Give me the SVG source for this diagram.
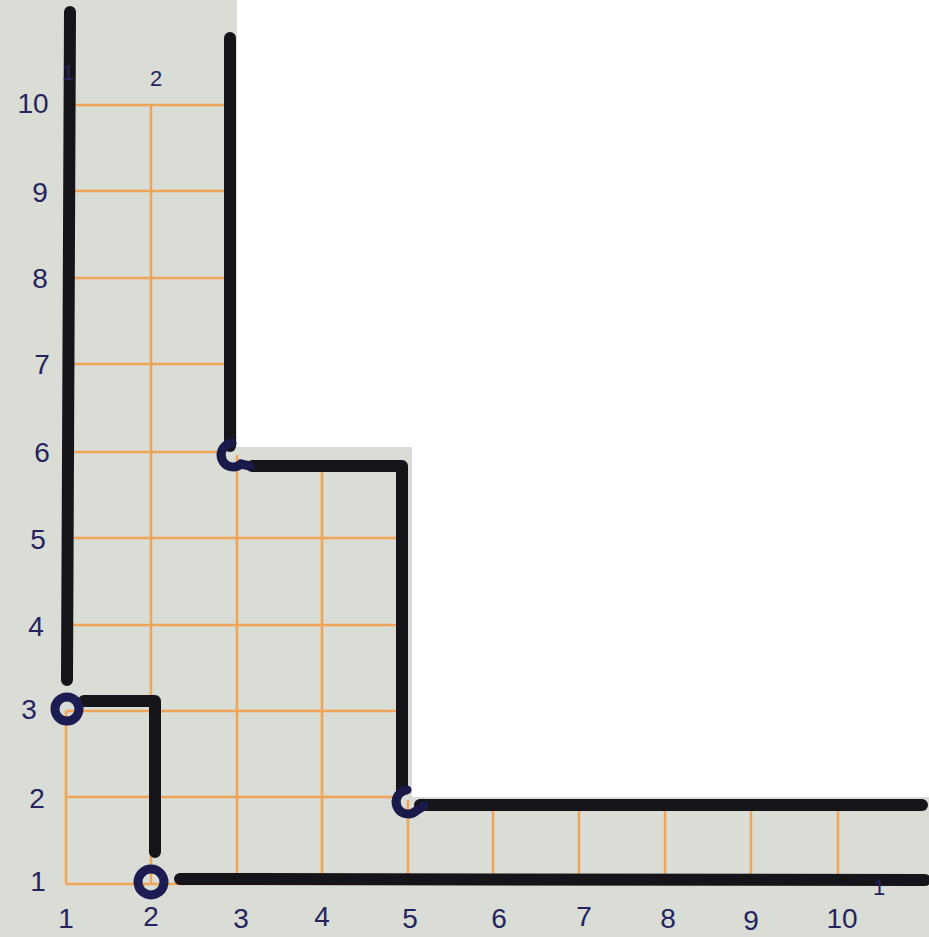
<svg xmlns="http://www.w3.org/2000/svg" width="929" height="937" viewBox="0 0 929 937">
<style>
.paper{fill:#d9ddd6}
.grid{stroke:#f0a456;stroke-width:2.5;fill:none}
.ink{stroke:#151519;stroke-width:12;fill:none;stroke-linecap:round;stroke-linejoin:round}
.ring{stroke:#1c1c52;stroke-width:9;fill:none}
.arc{stroke:#1a1a4a;stroke-width:9;fill:none;stroke-linecap:round}
.lbl{font-family:"Liberation Sans","DejaVu Sans",sans-serif;font-size:28px;fill:#25245e;text-anchor:middle}
.sm{font-size:22px}
</style>
<rect width="929" height="937" fill="#ffffff"/>
<g id="paper">
<path class="paper" d="M0 0 H237 V447 H412 V797 H929 V937 H0 Z"/>
</g>
<g id="grid">
<line class="grid" x1="66" y1="105" x2="230" y2="105"/>
<line class="grid" x1="66" y1="191" x2="230" y2="191"/>
<line class="grid" x1="66" y1="278" x2="230" y2="278"/>
<line class="grid" x1="66" y1="364" x2="230" y2="364"/>
<line class="grid" x1="66" y1="452" x2="225" y2="452"/>
<line class="grid" x1="66" y1="538" x2="402" y2="538"/>
<line class="grid" x1="66" y1="625" x2="402" y2="625"/>
<line class="grid" x1="66" y1="711" x2="402" y2="711"/>
<line class="grid" x1="66" y1="797" x2="402" y2="797"/>
<line class="grid" x1="66" y1="884" x2="838" y2="884"/>
<line class="grid" x1="66" y1="711" x2="66" y2="884"/>
<line class="grid" x1="151" y1="105" x2="151" y2="884"/>
<line class="grid" x1="237" y1="455" x2="237" y2="884"/>
<line class="grid" x1="322" y1="466" x2="322" y2="884"/>
<line class="grid" x1="408" y1="800" x2="408" y2="884"/>
<line class="grid" x1="493" y1="806" x2="493" y2="884"/>
<line class="grid" x1="579" y1="806" x2="579" y2="884"/>
<line class="grid" x1="665" y1="806" x2="665" y2="884"/>
<line class="grid" x1="751" y1="806" x2="751" y2="884"/>
<line class="grid" x1="838" y1="806" x2="838" y2="884"/>
</g>
<g id="connectors">
<path class="ink" d="M70 12 L67 680"/>
<path class="ink" d="M84 701 H155 V852"/>
<path class="ink" d="M180 879 L925 880"/>
<path class="ink" d="M230 38 V446"/>
<path class="ink" d="M252 466 H402 V790"/>
<path class="ink" d="M420 805 H922"/>
<path class="arc" d="M232 443 A12 12 0 1 0 241 464 L250 466"/>
<path class="arc" d="M407 790 A12 12 0 1 0 416 811 L424 806"/>
</g>
<g id="node-3">
<circle class="ring" cx="67" cy="709" r="12"/>
</g>
<g id="node-2">
<circle class="ring" cx="151" cy="882" r="13"/>
</g>
<g id="labels">
<text class="lbl" x="66" y="928">1</text>
<text class="lbl" x="151" y="926">2</text>
<text class="lbl" x="241" y="928">3</text>
<text class="lbl" x="322" y="926">4</text>
<text class="lbl" x="410" y="928">5</text>
<text class="lbl" x="499" y="928">6</text>
<text class="lbl" x="584" y="926">7</text>
<text class="lbl" x="668" y="928">8</text>
<text class="lbl" x="751" y="930">9</text>
<text class="lbl" x="842" y="928">10</text>
<text class="lbl" x="38" y="891">1</text>
<text class="lbl" x="37" y="808">2</text>
<text class="lbl" x="29" y="719">3</text>
<text class="lbl" x="36" y="636">4</text>
<text class="lbl" x="38" y="549">5</text>
<text class="lbl" x="42" y="462">6</text>
<text class="lbl" x="42" y="374">7</text>
<text class="lbl" x="40" y="288">8</text>
<text class="lbl" x="40" y="202">9</text>
<text class="lbl" x="33" y="113">10</text>
<text class="lbl sm" x="156" y="86">2</text>
<text class="lbl sm" x="68" y="80">1</text>
<text class="lbl sm" x="879" y="895">1</text>
</g>
</svg>
